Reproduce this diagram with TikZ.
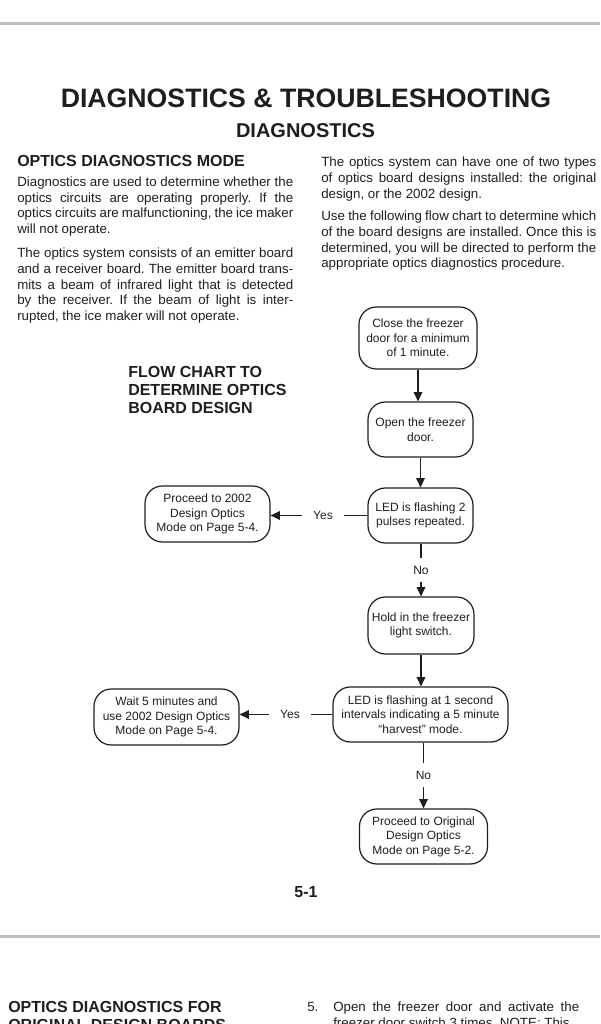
\documentclass[tikz,border=0pt]{standalone}
\usepackage{fontspec}
\setmainfont{Liberation Sans}
\usetikzlibrary{arrows.meta}
\newdimen\pxu \pxu=0.75pt
\definecolor{ink}{HTML}{1E1E1E}
\definecolor{rulegray}{HTML}{BDBDBD}
\hyphenpenalty=10000
\frenchspacing
\begin{document}
\frenchspacing
\begin{tikzpicture}[x=0.75pt,y=-0.75pt,
  box/.style={draw=ink, line width=0.9pt, rounded corners=13pt, align=center,
    font=\fontsize{9}{10.9}\selectfont, inner sep=0pt, text=ink},
  conn/.style={line width=0.9pt, draw=ink},
  arr/.style={conn, -{Triangle[length=7pt,width=6.5pt]}},
  yeslbl/.style={font=\fontsize{9}{10.9}\selectfont, inner xsep=8.25pt, inner ysep=0pt, text=ink},
  nolbl/.style={font=\fontsize{9}{10.9}\selectfont, inner xsep=0pt, inner ysep=6pt, text=ink},
  body/.style={anchor=north west, inner sep=0pt, align=justify, text=ink,
    font=\fontsize{10}{11.7}\selectfont},
  head/.style={font=\bfseries\fontsize{12}{13.5}\selectfont, inner sep=0pt, text=ink},
  pagerule/.style={line width=2.25pt, draw=rulegray}
]
\useasboundingbox (0,0) rectangle (600,1024);
\clip (0,0) rectangle (600,1024);

% page rules
\draw[pagerule] (0,24) -- (600,24);
\draw[pagerule] (0,936) -- (600,936);

% titles
\node[font=\bfseries\fontsize{20}{24}\selectfont, inner sep=0pt, text=ink] (title) at (306,98) {DIAGNOSTICS \& TROUBLESHOOTING};
\node[font=\bfseries\fontsize{15}{18}\selectfont, inner sep=0pt, text=ink] (subtitle) at (305.5,131) {DIAGNOSTICS};
\node[head, anchor=west] (sechead) at (17,160.5) {OPTICS DIAGNOSTICS MODE};

% left column text
\node[body, text width=207pt] (lp1) at (17,176.5) {Diagnostics are used to determine whether the\linebreak
optics circuits are operating properly. If the\linebreak
optics circuits are malfunctioning, the ice maker\linebreak
will not operate.};
\node[body, text width=207pt] (lp2) at (17,248) {The optics system consists of an emitter board\linebreak
and a receiver board. The emitter board trans-\linebreak
mits a beam of infrared light that is detected\linebreak
by the receiver. If the beam of light is inter-\linebreak
rupted, the ice maker will not operate.};

% right column text
\node[body, text width=206.25pt] (rp1) at (321,157) {The optics system can have one of two types\linebreak
of optics board designs installed: the original\linebreak
design, or the 2002 design.};
\node[body, text width=206.25pt] (rp2) at (321,211) {Use the following flow chart to determine which\linebreak
of the board designs are installed. Once this is\linebreak
determined, you will be directed to perform the\linebreak
appropriate optics diagnostics procedure.};

% flow chart heading
\node[head, anchor=north west, align=left] (fchead) at (128,366.3) {FLOW CHART TO\\DETERMINE OPTICS\\BOARD DESIGN};

% flow chart boxes
\node[box, minimum width=118\pxu, minimum height=62\pxu] (b1) at (418,338) {Close the freezer\\door for a minimum\\of 1 minute.};
\node[box, minimum width=105\pxu, minimum height=55\pxu] (b2) at (420.5,429.5) {Open the freezer\\door.};
\node[box, minimum width=105\pxu, minimum height=55\pxu] (b3) at (420.5,515.5) {LED is flashing 2\\pulses repeated.};
\node[box, minimum width=125\pxu, minimum height=56\pxu] (b4) at (207.5,514) {Proceed to 2002\\Design Optics\\Mode on Page 5-4.};
\node[box, minimum width=106\pxu, minimum height=57\pxu] (b5) at (421,625.5) {Hold in the freezer\\light switch.};
\node[box, minimum width=175\pxu, minimum height=55\pxu] (b6) at (420.5,714.5) {LED is flashing at 1 second\\intervals indicating a 5 minute\\“harvest” mode.};
\node[box, minimum width=145\pxu, minimum height=56\pxu] (b7) at (166.5,717) {Wait 5 minutes and\\use 2002 Design Optics\\Mode on Page 5-4.};
\node[box, minimum width=128\pxu, minimum height=55\pxu] (b8) at (423.5,836.5) {Proceed to Original\\Design Optics\\Mode on Page 5-2.};

% labels
\node[yeslbl] (yes1) at (323,515.5) {Yes};
\node[nolbl] (no1) at (421,570) {No};
\node[yeslbl] (yes2) at (290,714.5) {Yes};
\node[nolbl] (no2) at (423.5,775) {No};

% connectors
\draw[arr] (b1.south) -- (b1.south |- b2.north);
\draw[arr] (b2.south) -- (b2.south |- b3.north);
\draw[conn] (b3.west) -- (yes1.east);
\draw[arr] (yes1.west) -- (yes1.west -| b4.east);
\draw[conn] (no1.north |- b3.south) -- (no1.north);
\draw[arr] (no1.south) -- (no1.south |- b5.north);
\draw[arr] (b5.south) -- (b5.south |- b6.north);
\draw[conn] (b6.west) -- (yes2.east);
\draw[arr] (yes2.west) -- (yes2.west -| b7.east);
\draw[conn] (no2.north |- b6.south) -- (no2.north);
\draw[arr] (no2.south) -- (no2.south |- b8.north);

% page number
\node[font=\bfseries\fontsize{12}{13.5}\selectfont, inner sep=0pt, text=ink] (pagenum) at (306,892.5) {5-1};

% next page (cut off at the bottom edge, as in the reference)
\node[head, anchor=north west, align=left] (nexthead) at (8,1001) {OPTICS DIAGNOSTICS FOR\\ORIGINAL DESIGN BOARDS};
\node[font=\fontsize{10}{11.7}\selectfont, anchor=north west, inner sep=0pt, text=ink] (item5) at (307,1002) {5.};
\node[body, text width=184.5pt] (item5text) at (333,1002) {Open the freezer door and activate the\linebreak
freezer door switch 3 times. NOTE: This};
\end{tikzpicture}
\end{document}
